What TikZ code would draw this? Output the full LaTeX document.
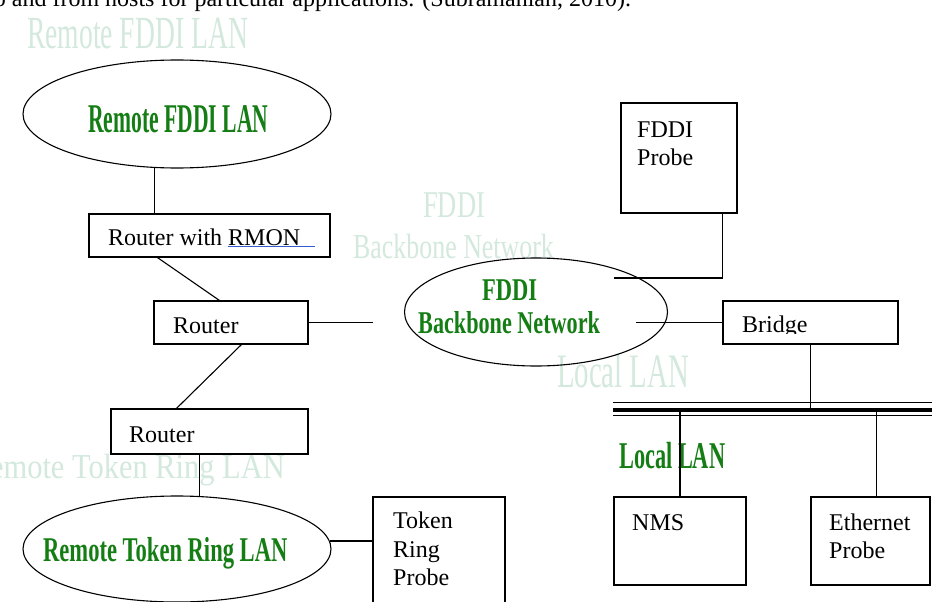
\documentclass[tikz,border=0pt]{standalone}
\usepackage{fontspec}
\setmainfont{Liberation Serif}
\usepackage{graphicx}
\usetikzlibrary{shapes.geometric,calc}
\definecolor{lgreen}{RGB}{20,125,20}
\definecolor{faint}{RGB}{212,233,221}
\definecolor{ulblue}{RGB}{50,90,210}
\newcommand{\gtext}[3]{\scalebox{#2}[1]{\fontsize{#1}{#1}\selectfont\bfseries #3}}
\newcommand{\ftext}[3]{\scalebox{#2}[1]{\fontsize{#1}{#1}\selectfont #3}}
\begin{document}
\begin{tikzpicture}[x=1pt,y=-1pt,
  box/.style={draw, line width=1.1pt, rectangle, inner sep=0pt},
  oval/.style={draw, line width=1.1pt, ellipse, inner sep=0pt},
  txt/.style={inner sep=0pt, anchor=base west, font=\fontsize{24}{28}\selectfont},
  glabel/.style={inner sep=0pt, anchor=base west, text=lgreen},
  flabel/.style={inner sep=0pt, anchor=base west, text=faint},
  link/.style={line width=1.1pt}]
\useasboundingbox (0,0) rectangle (932,602);
\fill[white] (0,0) rectangle (932,602);

% faint labels (behind)
\node[flabel] (f1) at (27,49) {\ftext{46}{0.6}{Remote FDDI LAN}};
\node[flabel] (f2) at (423,217) {\ftext{37.8}{0.70}{FDDI}};
\node[flabel] (f3) at (353,258) {\ftext{35}{0.74}{Backbone Network}};
\node[flabel] (f4) at (557,387) {\ftext{48}{0.6}{Local LAN}};
\node[flabel, anchor=base east] (f5) at (285,478) {\ftext{35}{0.87}{Remote Token Ring LAN}};

% top cut-off text line
\node[txt] (topline) at (-13,7) {to and from hosts for particular applications. (Subramanian, 2010).};

% ellipses
\node[oval, minimum width=308pt, minimum height=108pt] (e1) at (177,114) {};
\node[oval, minimum width=263pt, minimum height=108pt] (e2) at (536,312) {};
\node[oval, minimum width=308pt, minimum height=106pt] (e3) at (177,549) {};

% boxes
\node[box, minimum width=241pt, minimum height=43pt] (rmon) at (209.5,235.5) {};
\node[box, minimum width=154pt, minimum height=43pt] (router1) at (231,322.5) {};
\node[box, minimum width=197pt, minimum height=45pt] (router2) at (209.5,431.5) {};
\node[box, minimum width=116pt, minimum height=110pt] (fprobe) at (679,158) {};
\node[box, minimum width=175pt, minimum height=43pt] (bridge) at (810.5,322.5) {};
\node[box, minimum width=132pt, minimum height=88pt] (nms) at (680,541) {};
\node[box, minimum width=119pt, minimum height=88pt] (eprobe) at (870.5,541) {};
\node[box, minimum width=132pt, minimum height=146pt] (tprobe) at (439,570) {};

% green labels
\node[glabel] (g1) at (88,132) {\gtext{40.8}{0.53}{Remote FDDI LAN}};
\node[glabel] (g2a) at (482,300) {\gtext{31.7}{0.71}{FDDI}};
\node[glabel] (g2b) at (418,333) {\gtext{31.7}{0.70}{Backbone Network}};
\node[glabel] (g3) at (619,468) {\gtext{37.8}{0.59}{Local LAN}};
\node[glabel] (g4) at (43,561) {\gtext{34.7}{0.65}{Remote Token Ring LAN}};

% box texts
\node[txt] (rmontext) at (108,245) {Router with RMON};
\draw[ulblue, line width=0.8pt] ([xshift=-72pt,yshift=-1.5pt]rmontext.base east) -- ([xshift=15pt,yshift=-1.5pt]rmontext.base east);
\node[txt] (r1text) at (173,333) {Router};
\node[txt] (r2text) at (129,442) {Router};
\node[txt] (fp1) at (637,137) {FDDI};
\node[txt] (fp2) at (637,165) {Probe};
\begin{scope}
\clip (723,301) rectangle (898,333.5);
\node[txt] (brtext) at (742,332) {Bridge};
\end{scope}
\node[txt] (nmstext) at (632,530) {NMS};
\node[txt] (ep1) at (829,530) {Ethernet};
\node[txt] (ep2) at (829,558) {Probe};
\node[txt] (tp1) at (393,528) {Token};
\node[txt] (tp2) at (393,557) {Ring};
\node[txt] (tp3) at (393,585) {Probe};

% free ends and bus
\coordinate (gapL) at (373,322.5);
\coordinate (fpin) at (614,278);
\coordinate (brin) at (636,322.5);
\coordinate (busL) at (613,410);
\coordinate (busR) at (932,410);

% connectors
\draw[link] (e1.247.6) -- (e1.247.6 |- rmon.north);
\draw[link] ([xshift=69pt]rmon.south west) -- ([xshift=66pt]router1.north west);
\draw[link] (router1.east) -- (gapL);
\draw[link] ([xshift=88pt]router1.south west) -- ([xshift=66pt]router2.north west);
\draw[link] (e3.67.3) -- (e3.67.3 |- router2.south);
\draw[link] (e3.3) -- (e3.3 -| tprobe.west);
\draw[link] (fpin) -| ([xshift=102pt]fprobe.south west);
\draw[link] (brin) -- (bridge.west);

% bus
\draw[line width=1.6pt] ($(busL)+(0,-7.5)$) -- ($(busR)+(0,-7.5)$);
\draw[line width=4.5pt] (busL) -- (busR);
\draw[line width=1.6pt] ($(busL)+(0,5.5)$) -- ($(busR)+(0,5.5)$);
\draw[link] ([xshift=88pt]bridge.south west) -- ([xshift=88pt]bridge.south west |- busL);
\draw[link] (nms.north |- busL) -- (nms.north);
\draw[link] ([xshift=66pt]eprobe.north west |- busL) -- ([xshift=66pt]eprobe.north west);
\end{tikzpicture}
\end{document}
